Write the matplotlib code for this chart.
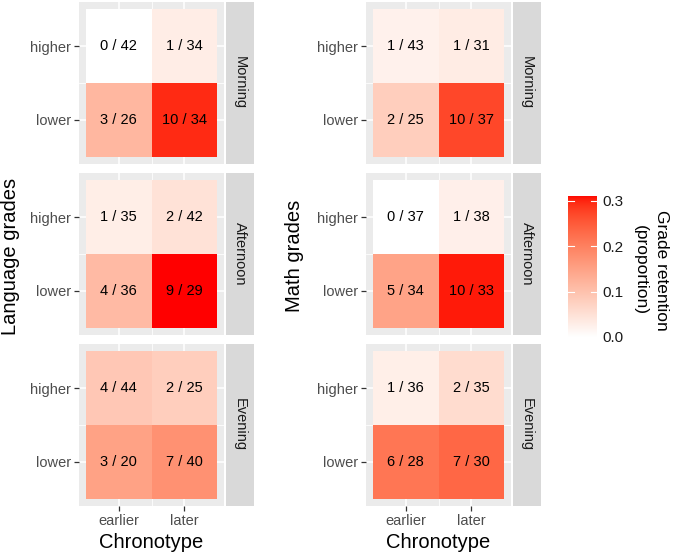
import numpy as np
import matplotlib
matplotlib.use("Agg")
import matplotlib.pyplot as plt
from matplotlib.colors import ListedColormap, Normalize

plt.rcParams['font.family'] = ['Liberation Sans', 'DejaVu Sans']

# data: rows = grade (lower, higher), cols = chronotype (earlier, later)
chronotype = ["earlier", "later"]
grades = ["lower", "higher"]
times = ["Morning", "Afternoon", "Evening"]

lang_retained = [[[3, 10], [0, 1]],
                 [[4, 9], [1, 2]],
                 [[3, 7], [4, 2]]]
lang_total = [[[26, 34], [42, 34]],
              [[36, 29], [35, 42]],
              [[20, 40], [44, 25]]]

math_retained = [[[2, 10], [1, 1]],
                 [[5, 10], [0, 1]],
                 [[6, 7], [1, 2]]]
math_total = [[[25, 37], [43, 31]],
              [[34, 33], [37, 38]],
              [[28, 30], [36, 35]]]

cbar_ticks = [0.0, 0.1, 0.2, 0.3]


# white -> red gradient interpolated in Lab space (like ggplot)
def srgb_to_lab(rgb):
    c = np.asarray(rgb, float)
    lin = np.where(c <= 0.04045, c / 12.92, ((c + 0.055) / 1.055) ** 2.4)
    M = np.array([[0.4124, 0.3576, 0.1805],
                  [0.2126, 0.7152, 0.0722],
                  [0.0193, 0.1192, 0.9505]])
    xyz = M @ lin / np.array([0.95047, 1.0, 1.08883])
    f = np.where(xyz > 0.008856, np.cbrt(xyz), 7.787 * xyz + 16 / 116)
    return np.array([116 * f[1] - 16, 500 * (f[0] - f[1]), 200 * (f[1] - f[2])])


def lab_to_srgb(lab):
    L, a, b = lab
    fy = (L + 16) / 116
    fx = fy + a / 500
    fz = fy - b / 200
    f = np.array([fx, fy, fz])
    xyz = np.where(f ** 3 > 0.008856, f ** 3, (f - 16 / 116) / 7.787)
    xyz = xyz * np.array([0.95047, 1.0, 1.08883])
    Minv = np.array([[3.2406, -1.5372, -0.4986],
                     [-0.9689, 1.8758, 0.0415],
                     [0.0557, -0.2040, 1.0570]])
    lin = Minv @ xyz
    lin = np.clip(lin, 0, 1)
    c = np.where(lin <= 0.0031308, 12.92 * lin, 1.055 * lin ** (1 / 2.4) - 0.055)
    return np.clip(c, 0, 1)


lab_w = srgb_to_lab([1, 1, 1])
lab_r = srgb_to_lab([1, 0, 0])
cols = [lab_to_srgb(lab_w + t * (lab_r - lab_w)) for t in np.linspace(0, 1, 256)]
cmap = ListedColormap(cols)

all_props = [r / t for R, T in [(lang_retained, lang_total), (math_retained, math_total)]
             for r, t in zip(np.ravel(R), np.ravel(T))]
norm = Normalize(0, max(all_props))

W, H = 675, 554
fig = plt.figure(figsize=(W / 100, H / 100), dpi=100)


def px_axes(x, y, w, h):
    return fig.add_axes([x / W, (H - y - h) / H, w / W, h / H])


panel_tops = [2, 173, 344]
panel_h = 162
panel_w = 145
strip_w = 28


def draw_block(x0, retained, total, ylabel, ylabel_x):
    for i, t in enumerate(times):
        ax = px_axes(x0, panel_tops[i], panel_w, panel_h)
        ax.set_facecolor("#EBEBEB")
        for v in [1, 2]:
            ax.axvline(v, color="white", lw=1.1, zorder=0)
            ax.axhline(v, color="white", lw=1.1, zorder=0)
        ax.axvline(1.5, color="white", lw=0.55, zorder=0)
        ax.axhline(1.5, color="white", lw=0.55, zorder=0)
        R = np.array(retained[i])
        T = np.array(total[i])
        ax.pcolormesh([0.5, 1.5, 2.5], [0.5, 1.5, 2.5], R / T, cmap=cmap, norm=norm, zorder=1)
        for gi in range(2):
            for ci in range(2):
                ax.text(ci + 1, gi + 1, f"{R[gi, ci]} / {T[gi, ci]}", ha="center", va="center",
                        fontsize=10.5, color="black", zorder=2)
        ax.set_xlim(0.4, 2.6)
        ax.set_ylim(0.4, 2.6)
        for s in ax.spines.values():
            s.set_visible(False)
        ax.set_yticks([1, 2])
        ax.set_yticklabels(grades)
        ax.set_xticks([1, 2])
        ax.tick_params(length=3.5, width=0.9, color="#333333", labelcolor="#4D4D4D",
                       labelsize=10.5, pad=2)
        if i == 2:
            ax.set_xticklabels(chronotype)
        else:
            ax.set_xticklabels([])
            ax.tick_params(axis="x", length=0)

        sx = px_axes(x0 + panel_w + 2, panel_tops[i], strip_w, panel_h)
        sx.set_facecolor("#D9D9D9")
        sx.set_xticks([])
        sx.set_yticks([])
        for s in sx.spines.values():
            s.set_visible(False)
        sx.text(0.5, 0.5, t, rotation=270, ha="center", va="center", fontsize=10.5,
                color="#1A1A1A", transform=sx.transAxes)

    fig.text(ylabel_x / W, 1 - 256 / H, ylabel, rotation=90, ha="center", va="center", fontsize=14.5)
    fig.text((x0 + panel_w / 2) / W, 1 - 543 / H, "Chronotype", ha="center", va="center", fontsize=14.5)


draw_block(79, lang_retained, lang_total, "Language grades", 11)
draw_block(366, math_retained, math_total, "Math grades", 295)

# colour bar
cax = px_axes(568, 196, 29, 141)
grad = np.linspace(0, norm.vmax, 256).reshape(-1, 1)
cax.imshow(grad, aspect="auto", cmap=cmap, norm=norm, origin="lower",
           extent=[0, 1, 0, norm.vmax])
cax.set_xlim(0, 1)
cax.set_ylim(0, norm.vmax)
for s in cax.spines.values():
    s.set_visible(False)
cax.set_xticks([])
cax.yaxis.tick_right()
cax.set_yticks(cbar_ticks)
cax.set_yticklabels([f"{v:.1f}" for v in cbar_ticks])
cax.tick_params(axis="y", length=0, labelsize=11, labelcolor="#1A1A1A", pad=4)
for v in cbar_ticks[1:]:
    cax.plot([0, 0.2], [v, v], color="white", lw=0.8)
    cax.plot([0.8, 1], [v, v], color="white", lw=0.8)

fig.text(651 / W, 1 - 270 / H, "Grade retention\n(proportion)", rotation=270,
         ha="center", va="center", multialignment="center", fontsize=12.5, linespacing=1.45)

fig.savefig("out.png", dpi=100)
